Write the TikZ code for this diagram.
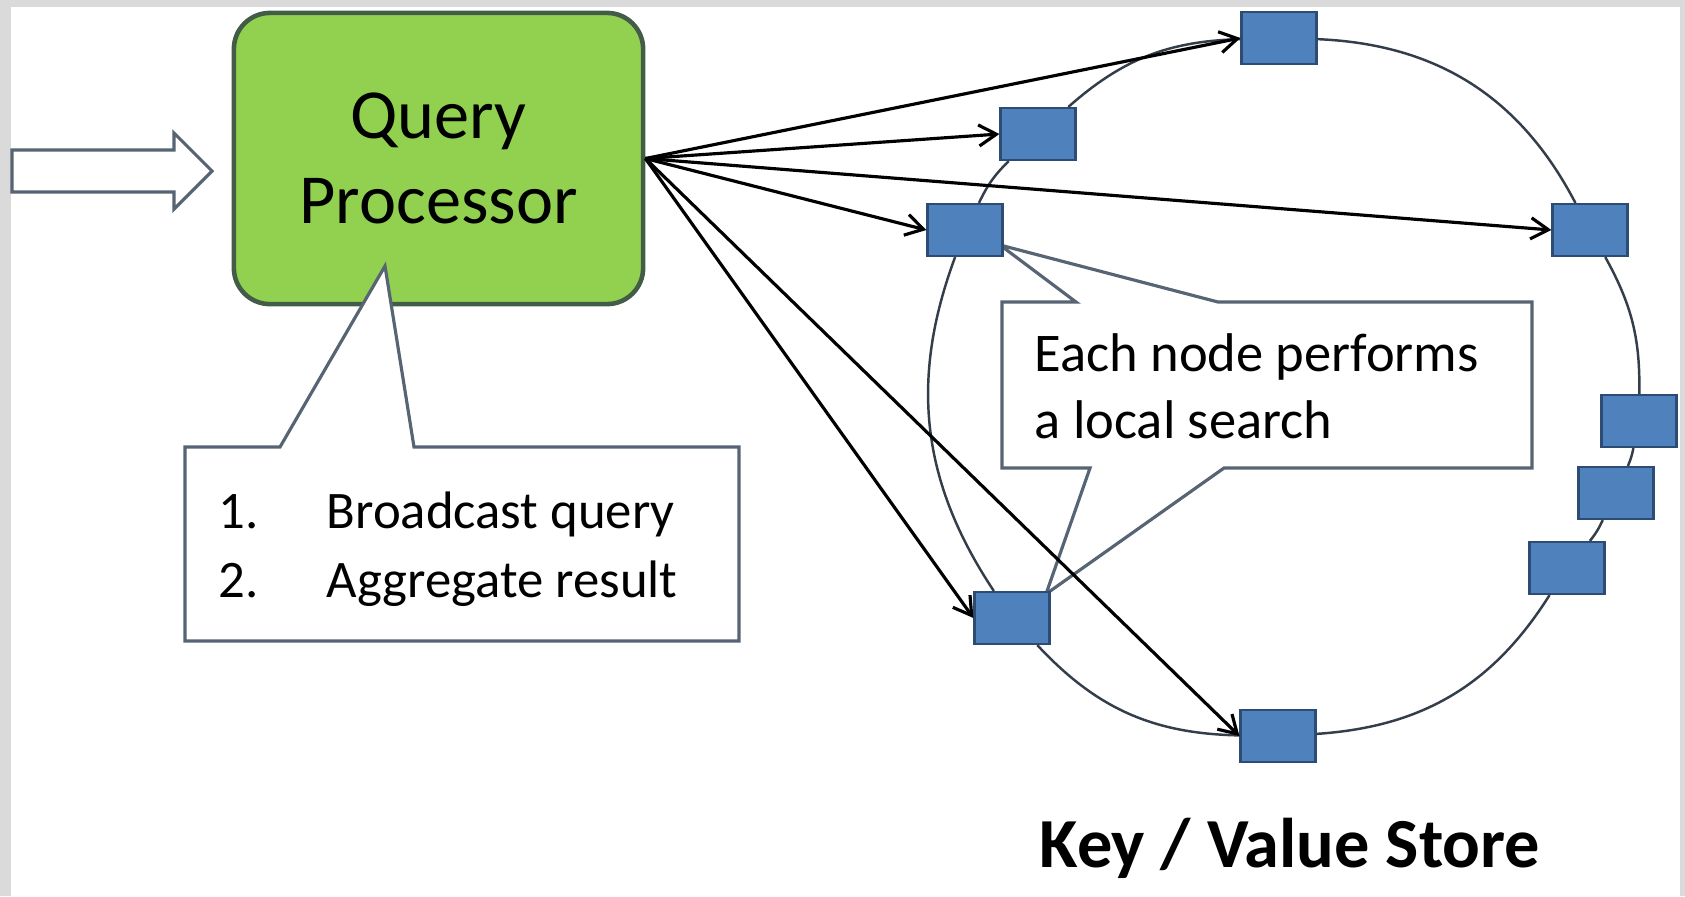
\documentclass[tikz,border=0pt]{standalone}
\usepackage{fontspec}
\setmainfont{Carlito}
\usetikzlibrary{arrows.meta, positioning}
\definecolor{qpgreen}{RGB}{146,208,80}
\definecolor{qpborder}{RGB}{66,92,72}
\definecolor{kvblue}{RGB}{79,129,189}
\definecolor{kvborder}{RGB}{44,76,116}
\definecolor{calloutline}{RGB}{86,100,116}
\definecolor{ringline}{RGB}{52,62,74}
\definecolor{framegray}{RGB}{218,218,218}
\tikzset{%
	proc/.style={draw=qpborder, line width=1.3pt, fill=qpgreen, rounded corners=0.36cm,
		minimum width=4.09cm, minimum height=2.91cm, align=center, font=\fontsize{20}{24}\selectfont},
	kvnode/.style={draw=kvborder, line width=0.6pt, fill=kvblue, minimum width=0.75cm,
		minimum height=0.52cm, inner sep=0mm},
	ring/.style={draw=ringline, line width=0.7pt},
	sel/.style={->, line width=0.9pt},
	callout/.style={draw=calloutline, line width=0.9pt, fill=white},
	note/.style={inner sep=0mm, align=left, anchor=base west},
	inarrow/.style={draw=calloutline, line width=0.9pt, fill=white},
	title/.style={font=\bfseries\fontsize{20}{24}\selectfont, inner sep=0mm, anchor=base}
}

\begin{document}
\begin{tikzpicture}[x=0.01cm, y=-0.01cm, >={Straight Barb[length=5pt,width=6pt]}]
	% frame
	\fill[framegray] (0,0) rectangle (1685,896);
	\fill[white] (11,7) rectangle (1680,896);
	\useasboundingbox (0,0) rectangle (1685,896);

	\draw[inarrow] (12,150) -- (174,150) -- (174,133) -- (212,171) -- (174,209) -- (174,192) -- (12,192) -- cycle;
	\node[proc] (qp) at (438.5,158.5) {Query\\Processor};

	% callouts (node anchored on the last baseline)
	\draw[callout] (185,447) -- (280,447) -- (385,266) -- (414,447) -- (739,447) -- (739,641) -- (185,641) -- cycle;
	\node[note, font=\fontsize{15}{19.6}\selectfont] (steps) at (218,597)
		{\makebox[1.08cm][l]{1.}Broadcast query\\\makebox[1.08cm][l]{2.}Aggregate result};
	\draw[callout] (1002,302) -- (1076,302) -- (1000,245) -- (1218,302) -- (1532,302) -- (1532,468)
		-- (1224,468) -- (1046,594) -- (1090,468) -- (1002,468) -- cycle;
	\node[note, font=\fontsize{15.5}{18.8}\selectfont] (search) at (1034,438) {Each node performs\\a local search};

	% key / value ring
	\node[kvnode] (n1) at (1279,38) {};
	\node[kvnode] (n2) at (1038,134) {};
	\node[kvnode] (n3) at (965,230) {};
	\node[kvnode] (n4) at (1590,230) {};
	\node[kvnode] (n5) at (1639,421) {};
	\node[kvnode] (n6) at (1616,493) {};
	\node[kvnode] (n7) at (1567,568) {};
	\node[kvnode] (n8) at (1012,618) {};
	\node[kvnode] (n9) at (1278,736) {};
	\node[title] (kvtitle) at (1290,867) {Key / Value Store};

	\draw[ring] (n1) to[bend left=30] (n4);
	\draw[ring] (n4) to[bend left=15] (n5);
	\draw[ring] (n5) to[bend left=6] (n6);
	\draw[ring] (n6) to[bend left=7] (n7);
	\draw[ring] (n7) to[bend left=27] (n9);
	\draw[ring] (n9) to[bend left=23] (n8);
	\draw[ring] (n8) to[bend left=27] (n3);
	\draw[ring] (n3) to[bend left=10] (n2);
	\draw[ring] (n2) to[bend left=20] (n1);

	\draw[sel] (qp.east) -- (n1.west);
	\draw[sel] (qp.east) -- (n2.west);
	\draw[sel] (qp.east) -- (n3.west);
	\draw[sel] (qp.east) -- (n4.west);
	\draw[sel] (qp.east) -- (n8.west);
	\draw[sel] (qp.east) -- (n9.west);
\end{tikzpicture}
\end{document}
